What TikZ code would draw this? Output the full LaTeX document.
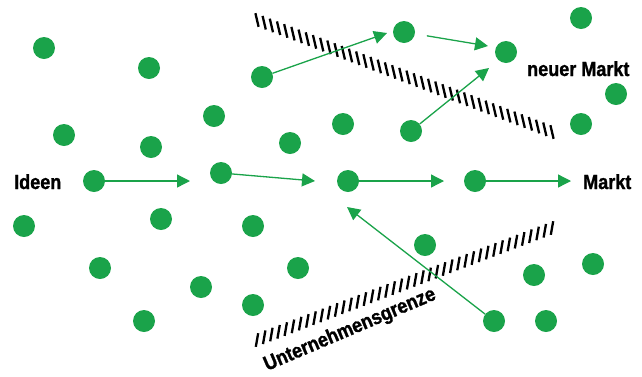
\documentclass[tikz,border=0pt]{standalone}
\usepackage{fontspec}
\newfontfamily\labfont{Liberation Sans}[FakeStretch=0.88,FakeBold=1.2]
\usetikzlibrary{arrows.meta,calc}
\definecolor{dotgreen}{RGB}{26,163,74}
\begin{document}
\begin{tikzpicture}[x=1pt,y=-1pt,
  dot/.style={circle,fill=dotgreen,minimum size=22pt,inner sep=0pt},
  flow/.style={draw=dotgreen,fill=dotgreen,line width=1.3pt,-{Triangle[length=13pt,width=13pt]}},
  lab/.style={font=\labfont\bfseries\fontsize{20.5}{22}\selectfont,inner sep=0pt},
  tickmark/.style={line width=2.3pt,black}]
\useasboundingbox (0,0) rectangle (642,376);

% boundaries
\coordinate (ha) at (257,20); \coordinate (hb) at (552,132);
\coordinate (la) at (257,340); \coordinate (lb) at (552,228);
\foreach \i in {0,...,41}{
  \coordinate (t) at ($(ha)!{\i/41}!(hb)$);
  \draw[tickmark] ($(t)+(-1.6,-6.8)$) -- ($(t)+(1.6,6.8)$);
  \coordinate (u) at ($(la)!{\i/41}!(lb)$);
  \draw[tickmark] ($(u)+(1.2,-6.8)$) -- ($(u)+(-1.2,6.8)$);
}

% dots
\foreach \n/\x/\y in {1/44/48,2/149/68,3/262/77,4/404/32,5/506/52,6/581/18,7/616/94,8/581/124,
  9/64/135,10/151/147,11/214/116,12/290/143,13/343/124,14/411/131,15/94/181,16/221/173,
  17/348/181,18/475/181,19/24/226,20/161/219,21/253/226,22/425/245,23/100/268,24/201/287,
  25/298/268,26/253/305,27/144/321,28/534/275,29/593/264,30/494/321,31/546/321}
  \node[dot] (d\n) at (\x,\y) {};

% arrow ends
\coordinate (e1) at (190,181);
\coordinate (e2) at (315,181);
\coordinate (e3) at (444,181);
\coordinate (e4) at (571,181);
\coordinate (e5) at (387,33);
\coordinate (e6) at (488,46);
\coordinate (e7) at (489,68);
\coordinate (e8) at (347,207);

\draw[flow] (d15) -- (e1);
\draw[flow] (d16) -- (e2);
\draw[flow] (d17) -- (e3);
\draw[flow] (d18) -- (e4);
\draw[flow] (d3) -- (e5);
\draw[flow,shorten <=12pt] (d4) -- (e6);
\draw[flow] (d14) -- (e7);
\draw[flow] (d30) -- (e8);

% labels
\node[lab,anchor=base west] (ideen) at (14,189) {Ideen};
\node[lab,anchor=base west] (markt) at (583,189) {Markt};
\node[lab,anchor=base west] (neu) at (527,76) {neuer Markt};
\node[lab,anchor=base west,rotate=23] (grenze) at (267,371) {Unternehmensgrenze};
\end{tikzpicture}
\end{document}
